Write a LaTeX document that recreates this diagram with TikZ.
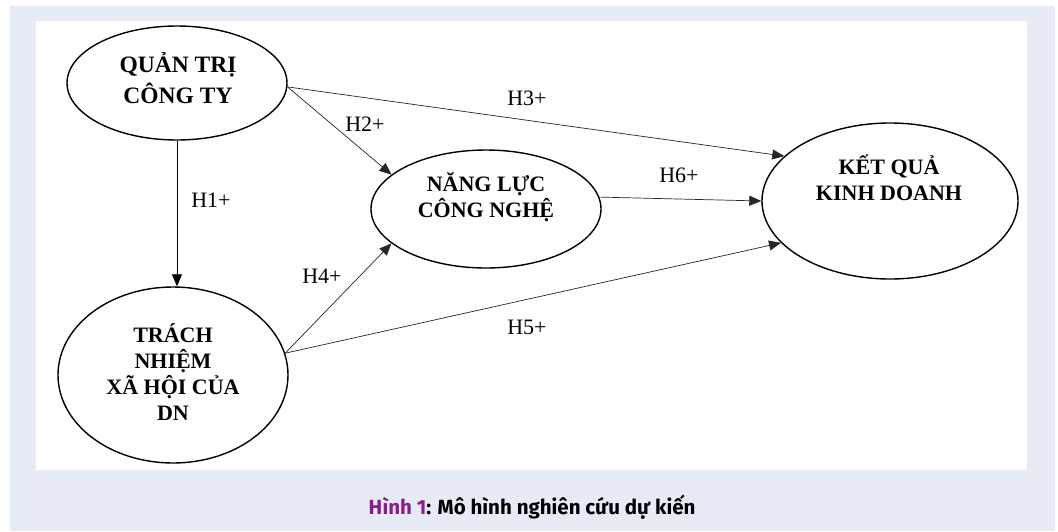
\documentclass[tikz,border=0pt]{standalone}
\usepackage{fontspec}
\setmainfont{Liberation Serif}
\newfontfamily\capfont{Fira Sans}
\usetikzlibrary{shapes.geometric,arrows.meta}
\definecolor{bgpanel}{HTML}{E7EBF5}
\definecolor{cappurple}{HTML}{8B1A8C}
\tikzset{
  construct/.style={draw=black, line width=1.4pt, ellipse, inner sep=0pt, fill=white},
  ctext/.style={font=\fontsize{22}{26}\selectfont\bfseries, align=center, inner sep=0pt},
  hlabel/.style={font=\fontsize{22}{24}\selectfont, inner sep=0pt},
  conn/.style={-{Triangle[length=12pt,width=10pt]}, line width=0.7pt, draw=black!85},
}
\begin{document}
\begin{tikzpicture}[x=1pt,y=-1pt]
\path[use as bounding box, fill=white] (0,0) rectangle (1058,531);
\fill[bgpanel] (10,6) rectangle (1055,531);
\fill[white] (36,21) rectangle (1027,470);

\node[construct, minimum width=220pt, minimum height=114pt] (qt) at (177,83) {};
\node[construct, minimum width=230pt, minimum height=176pt] (tn) at (173,375) {};
\node[construct, minimum width=230pt, minimum height=118pt] (nl) at (486,209) {};
\node[construct, minimum width=256pt, minimum height=156pt] (kq) at (890,201) {};

\node[ctext, font=\fontsize{23.5}{31}\selectfont\bfseries] (qtt) at (178,78) {QUẢN TRỊ\\CÔNG TY};
\node[ctext] (tnt) at (173,372) {TRÁCH\\NHIỆM\\XÃ HỘI CỦA\\DN};
\node[ctext] (nlt) at (486,197) {NĂNG LỰC\\CÔNG NGHỆ};
\node[ctext] (kqt) at (889,178) {KẾT QUẢ\\KINH DOANH};

\draw[conn] (qt.-2) -- (nl.160);
\draw[conn] (qt.-2) -- (kq.157);
\draw[conn, draw=black] (qt.south) -- (qt.south |- tn.north);
\draw[conn] (nl.6) -- (kq.180);
\draw[conn] (tn.11) -- (nl.200);
\draw[conn] (tn.11) -- (kq.201);

\node[hlabel] (h3) at (527,98) {H3+};
\node[hlabel] (h2) at (365,124) {H2+};
\node[hlabel] (h1) at (211,200) {H1+};
\node[hlabel] (h6) at (679,175) {H6+};
\node[hlabel] (h4) at (322,276) {H4+};
\node[hlabel] (h5) at (527,327) {H5+};

\node[font=\capfont\bfseries\fontsize{20.5}{22}\selectfont, inner sep=0pt] (cap) at (532,507) {{\color{cappurple}Hình 1}: Mô hình nghiên cứu dự kiến};
\end{tikzpicture}
\end{document}
